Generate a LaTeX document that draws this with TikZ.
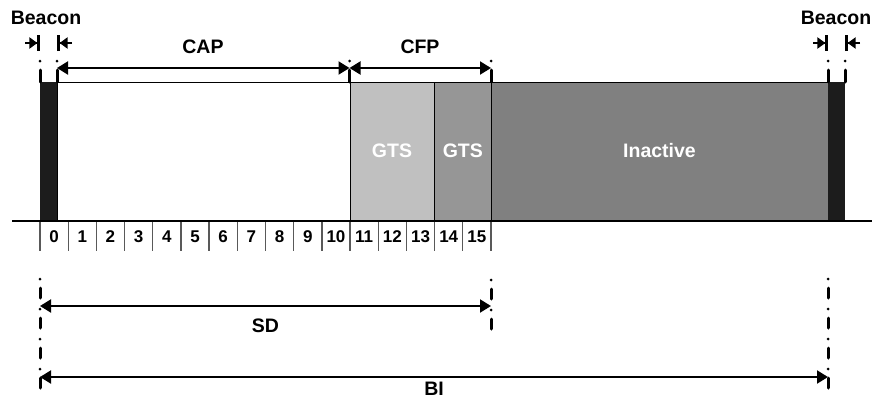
\documentclass[tikz,border=0pt]{standalone}
\usepackage{fontspec}
\setmainfont{Liberation Sans}
\usetikzlibrary{arrows.meta,positioning}

\definecolor{beaconcol}{HTML}{1C1C1C}
\definecolor{gtsone}{HTML}{C0C0C0}
\definecolor{gtstwo}{HTML}{969696}
\definecolor{inactcol}{HTML}{808080}

\tikzset{
  lbl/.style={font=\bfseries\fontsize{19.5}{22}\selectfont,inner sep=1pt},
  slotnum/.style={font=\bfseries\fontsize{17}{19}\selectfont},
  dimline/.style={line width=2pt,
    {Triangle[length=11pt,width=13pt]}-{Triangle[length=11pt,width=13pt]}},
  stub/.style={line width=2pt,
    -{Triangle[length=8pt,width=11pt]Bar[width=16pt,line width=2.6pt]}},
  guideup/.style={line width=3pt,line cap=round,
    dash pattern=on 12pt off 9pt on 0pt off 40pt},
  guidedown/.style={line width=3pt,line cap=round,
    dash pattern=on 0pt off 9pt on 10pt off 11pt},
  slotline/.style={line width=1.3pt,black!65},
}

\begin{document}
\begin{tikzpicture}[x=1pt,y=-1pt]
  \def\slotw{28.1875}
  \def\yTop{82}
  \def\yBase{221}
  \useasboundingbox (0,0) rectangle (872,399);

  % superframe blocks
  \fill[beaconcol] (40,\yTop) rectangle (57,\yBase);
  \draw[line width=0.8pt] (57,\yTop) rectangle (350,\yBase);
  \filldraw[fill=gtsone,line width=0.8pt] (350,\yTop) rectangle (434.6,\yBase);
  \filldraw[fill=gtstwo,line width=0.8pt] (434.6,\yTop) rectangle (491,\yBase);
  \filldraw[fill=inactcol,line width=0.8pt] (491,\yTop) rectangle (828,\yBase);
  \fill[beaconcol] (828,\yTop) rectangle (845,\yBase);

  \node[lbl,white] (gts1) at (392,151) {GTS};
  \node[lbl,white] (gts2) at (462.8,151) {GTS};
  \node[lbl,white] (inact) at (659.5,151) {Inactive};

  % time axis and slots
  \draw[line width=2pt] (12,\yBase) -- (872,\yBase);
  \foreach \i in {0,...,16}
    \draw[slotline] (40+\i*\slotw,\yBase+1) -- ++(0,29);
  \foreach \i in {0,...,15}
    \node[slotnum] (s\i) at (40+\i*\slotw+0.5*\slotw,237) {\i};

  % boundaries
  \coordinate (bA) at (40,43);
  \coordinate (bB) at (57,43);
  \coordinate (bC) at (828,43);
  \coordinate (bD) at (845,43);
  \coordinate (capL) at (57,68);
  \coordinate (capR) at (349.5,68);
  \coordinate (cfpR) at (491,68);
  \coordinate (sdL) at (40,306);
  \coordinate (sdR) at (491,306);
  \coordinate (biL) at (40,377);
  \coordinate (biR) at (828,377);

  % guide lines
  \foreach \x in {40,57,349.5,491,828,845}
    \draw[guideup] (\x,\yTop) -- (\x,55);
  \foreach \x in {40,828}
    \draw[guidedown] (\x,279) -- (\x,390);
  \draw[guidedown] (491,280) -- (491,336);

  % beacon markers
  \node[lbl] (beacon1) at (46,18) {Beacon};
  \node[lbl] (beacon2) at (836,18) {Beacon};
  \draw[stub] ([xshift=-15pt]bA) -- (bA);
  \draw[stub] ([xshift=15pt]bB) -- (bB);
  \draw[stub] ([xshift=-15pt]bC) -- (bC);
  \draw[stub] ([xshift=15pt]bD) -- (bD);

  % CAP / CFP
  \draw[dimline] (capL) -- (capR);
  \draw[dimline] (capR) -- (cfpR);
  \node[lbl] (cap) at (203,47) {CAP};
  \node[lbl] (cfp) at (420,47) {CFP};

  % SD / BI
  \draw[dimline] (sdL) -- (sdR);
  \node[lbl] (sd) at (265.5,326) {SD};
  \draw[dimline] (biL) -- (biR);
  \node[lbl] (bi) at (434,389) {BI};
\end{tikzpicture}
\end{document}
